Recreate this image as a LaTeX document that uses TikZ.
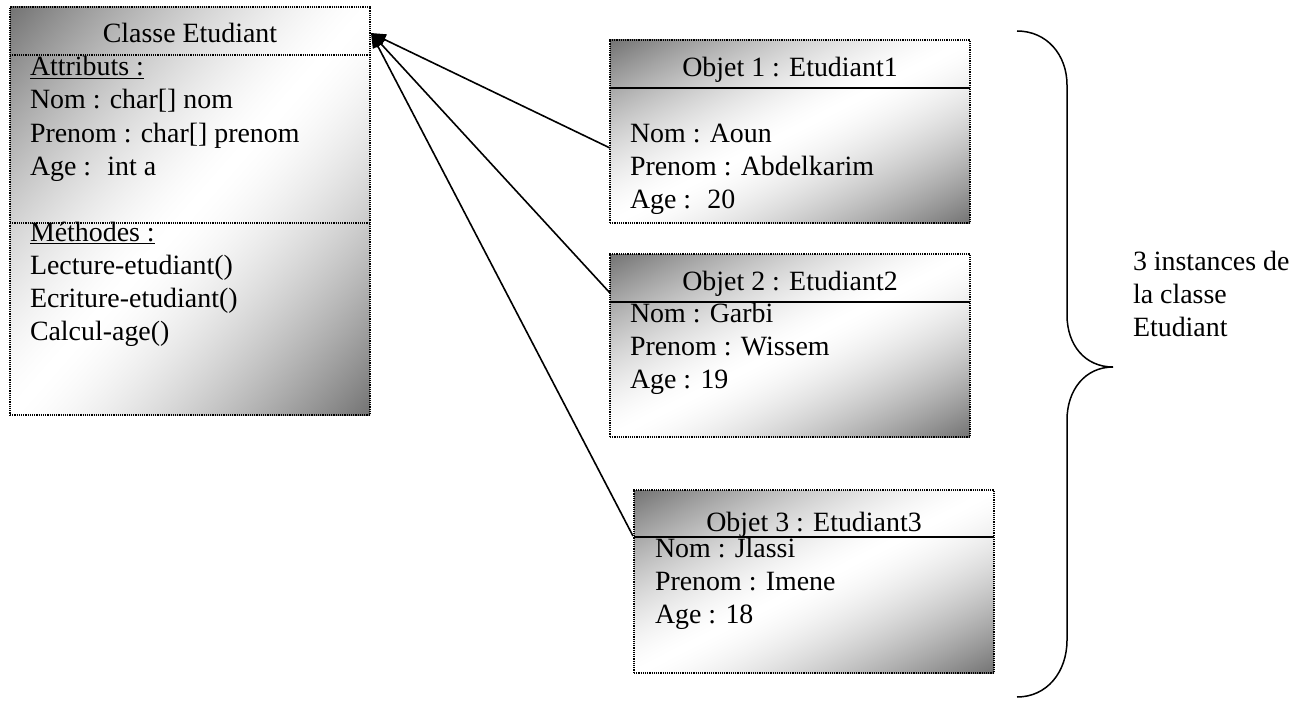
\documentclass[tikz,border=0pt]{standalone}
\usepackage{fontspec}
\setmainfont{Liberation Serif}
\usetikzlibrary{arrows.meta,calc}

% Diagonal two-way gradient: grey in the upper-left and lower-right corners,
% a broad white band along the other diagonal (the box is mapped onto 25bp..75bp).
\pgfdeclarefunctionalshading{gradbox}{\pgfpointorigin}{\pgfpoint{100bp}{100bp}}{}{sub abs 50 div 1.5 exp 0.55 mul neg 1 add dup dup}

\tikzset{
  umlbox/.style={draw, shade, shading=gradbox, rectangle, dash pattern=on 1.2bp off 1bp, line width=1.3bp,
    inner sep=0pt, outer sep=0pt, anchor=north west, minimum width=360bp},
  sepdot/.style={dash pattern=on 1.2bp off 1bp, line width=1.3bp},
  sepline/.style={line width=1.4bp},
  ttl/.style={anchor=base, inner sep=0pt, outer sep=0pt},
  txt/.style={anchor=base west, inner sep=0pt, outer sep=0pt},
  link/.style={line width=1.6bp, -{Triangle[length=15bp,width=11bp]}},
  curly/.style={line width=1.5bp},
}

\begin{document}
\begin{tikzpicture}[x=1bp, y=-1bp, every node/.append style={font=\fontsize{28}{33}\selectfont}]
\useasboundingbox (0,0) rectangle (1310,704);

% class box
\node[umlbox, minimum height=408bp] (cls) at (10,7) {};
\draw[sepdot] ($(cls.north west)+(0,48)$) -- ($(cls.north east)+(0,48)$);
\draw[sepdot] ($(cls.north west)+(0,216)$) -- ($(cls.north east)+(0,216)$);
\node[ttl] (clsT) at ($(cls.north)+(0,36)$) {Classe Etudiant};
\node[txt] (clsA) at ($(cls.north west)+(20,69)$) {\underline{Attributs :}};
\node[txt] (clsA1) at ($(cls.north west)+(20,102)$) {Nom : char[] nom};
\node[txt] (clsA2) at ($(cls.north west)+(20,135)$) {Prenom : char[] prenom};
\node[txt] (clsA3) at ($(cls.north west)+(20,168)$) {Age :~ int a};
\node[txt] (clsM) at ($(cls.north west)+(20,234)$) {\underline{Méthodes :}};
\node[txt] (clsM1) at ($(cls.north west)+(20,267)$) {Lecture-etudiant()};
\node[txt] (clsM2) at ($(cls.north west)+(20,300)$) {Ecriture-etudiant()};
\node[txt] (clsM3) at ($(cls.north west)+(20,333)$) {Calcul-age()};

% object 1
\node[umlbox, minimum height=183bp] (obj1) at (610,40) {};
\draw[sepline] ($(obj1.north west)+(0,48)$) -- ($(obj1.north east)+(0,48)$);
\node[ttl] (o1T) at ($(obj1.north)+(0,37)$) {Objet 1 : Etudiant1};
\node[txt] (o1a) at ($(obj1.north west)+(20,102)$) {Nom : Aoun};
\node[txt] (o1b) at ($(obj1.north west)+(20,135)$) {Prenom : Abdelkarim};
\node[txt] (o1c) at ($(obj1.north west)+(20,168)$) {Age :~ 20};

% object 2
\node[umlbox, minimum height=183bp] (obj2) at (610,254) {};
\draw[sepline] ($(obj2.north west)+(0,48)$) -- ($(obj2.north east)+(0,48)$);
\node[ttl] (o2T) at ($(obj2.north)+(0,36)$) {Objet 2 : Etudiant2};
\node[txt] (o2a) at ($(obj2.north west)+(20,68)$) {Nom : Garbi};
\node[txt] (o2b) at ($(obj2.north west)+(20,101)$) {Prenom : Wissem};
\node[txt] (o2c) at ($(obj2.north west)+(20,134)$) {Age : 19};

% object 3
\node[umlbox, minimum height=183bp] (obj3) at (634,490) {};
\draw[sepline] ($(obj3.north west)+(0,47)$) -- ($(obj3.north east)+(0,47)$);
\node[ttl] (o3T) at ($(obj3.north)+(0,41)$) {Objet 3 : Etudiant3};
\node[txt] (o3a) at ($(obj3.north west)+(21,67)$) {Nom : Jlassi};
\node[txt] (o3b) at ($(obj3.north west)+(21,100)$) {Prenom : Imene};
\node[txt] (o3c) at ($(obj3.north west)+(21,133)$) {Age : 18};

% instance links
\coordinate (tip) at ($(cls.north east)+(1,26)$);
\coordinate (e1) at ($(obj1.north west)+(0,108)$);
\coordinate (e2) at ($(obj2.north west)+(0,39)$);
\coordinate (e3) at ($(obj3.north west)+(-1,46)$);
\draw[link] (e1) -- (tip);
\draw[link] (e2) -- (tip);
\draw[link] (e3) -- (tip);

% right brace and its label
\draw[curly] (1017,31) .. controls (1047,31) and (1067,55) .. (1067,85)
  -- (1067,315) .. controls (1067,345) and (1085,367) .. (1113,367)
  .. controls (1085,367) and (1067,390) .. (1067,420)
  -- (1067,640) .. controls (1067,672) and (1047,697) .. (1017,697);
\node[txt] (lab1) at (1133,270) {3 instances de};
\node[txt] (lab2) at (1133,303) {la classe};
\node[txt] (lab3) at (1133,336) {Etudiant};
\end{tikzpicture}
\end{document}
